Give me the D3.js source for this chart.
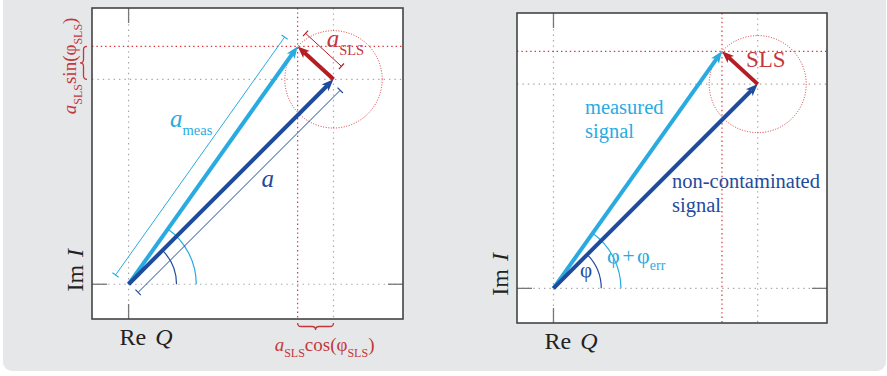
<!DOCTYPE html>
<html>
<head>
<meta charset="utf-8">
<script src="https://cdn.jsdelivr.net/npm/d3@7"></script>
<style>
  html, body { margin: 0; padding: 0; background: #fff; }
  svg { display: block; }
</style>
</head>
<body>
<div id="chart"></div>
<script>
// phasor values (arbitrary units, origin at 0,0)
var signal = [5.6, 5.6];        // non-contaminated signal a
var measured = [4.62, 6.5];     // measured signal a_meas
var xDomain = [-1, 7.5];
var yDomain = [-0.95, 7.55];
var arcRadii = [1.31, 1.85];    // angle markers: phi, phi+phi_err

var W = 887, H = 376;
var serif = '"Liberation Serif", "Times New Roman", serif';
var lightBlue = '#29abe2',
  darkBlue = '#1f4b9d',
  red = '#b51d24',
  redText = '#c4373d',
  redDot = '#d8343a',
  grayDot = '#a8a8a8';

// panel boxes
var panels = [
  { x: 92, y: 8, size: 311, detailed: true },
  { x: 517, y: 13, size: 310, detailed: false }
];

var svg = d3.select('#chart').append('svg')
  .attr('width', W).attr('height', H);

// grey rounded background
svg.append('rect')
  .attr('x', 3).attr('y', -20)
  .attr('width', 883).attr('height', 391)
  .attr('rx', 9)
  .attr('fill', '#e6e7e8');

// rich text with subscripts
function addText(g, x, y, parts, color, base, rotate) {
  var t = g.append('text')
    .attr('x', x).attr('y', y)
    .attr('fill', color)
    .style('font-family', serif)
    .style('font-size', base + 'px');
  if (rotate) t.attr('transform', 'rotate(' + rotate + ',' + x + ',' + y + ')');
  if (parts.anchor) t.attr('text-anchor', parts.anchor);
  var shift = 0;
  parts.forEach(function(p) {
    var s = t.append('tspan').text(p.t);
    var target = p.sub ? base * 0.3 : 0;
    if (target - shift !== 0) s.attr('dy', target - shift);
    shift = target;
    if (p.sub) s.style('font-size', (p.size || base * 0.6) + 'px');
    else if (p.size) s.style('font-size', p.size + 'px');
    if (p.i) s.style('font-style', 'italic');
    if (p.dx) s.attr('dx', p.dx);
  });
  return t;
}

function arrow(g, p0, p1, color, width) {
  var dx = p1[0] - p0[0], dy = p1[1] - p0[1];
  var len = Math.sqrt(dx * dx + dy * dy);
  var ux = dx / len, uy = dy / len;
  var hl = 12, hw = 4.8;
  g.append('line')
    .attr('x1', p0[0]).attr('y1', p0[1])
    .attr('x2', p1[0] - ux * (hl - 3)).attr('y2', p1[1] - uy * (hl - 3))
    .attr('stroke', color).attr('stroke-width', width);
  var bx = p1[0] - ux * hl, by = p1[1] - uy * hl;
  var nx = p1[0] - ux * (hl - 3), ny = p1[1] - uy * (hl - 3);
  g.append('path')
    .attr('d', 'M' + p1[0] + ',' + p1[1] +
      'L' + (bx - uy * hw) + ',' + (by + ux * hw) +
      'L' + nx + ',' + ny +
      'L' + (bx + uy * hw) + ',' + (by - ux * hw) + 'Z')
    .attr('fill', color);
}

// dimension line parallel to a vector, offset sideways
function dimLine(g, p0, p1, off, color, extra) {
  var dx = p1[0] - p0[0], dy = p1[1] - p0[1];
  var len = Math.sqrt(dx * dx + dy * dy);
  var ux = dx / len, uy = dy / len;
  var nx = uy, ny = -ux;
  var a = [p0[0] + nx * off - ux * extra[0], p0[1] + ny * off - uy * extra[0]];
  var b = [p1[0] + nx * off + ux * extra[1], p1[1] + ny * off + uy * extra[1]];
  g.append('line')
    .attr('x1', a[0]).attr('y1', a[1]).attr('x2', b[0]).attr('y2', b[1])
    .attr('stroke', color).attr('stroke-width', 1);
  [a, b].forEach(function(q) {
    g.append('line')
      .attr('x1', q[0] - nx * 3.8).attr('y1', q[1] - ny * 3.8)
      .attr('x2', q[0] + nx * 3.8).attr('y2', q[1] + ny * 3.8)
      .attr('stroke', color).attr('stroke-width', 1.2);
  });
}

function braceV(x, y1, y2, w) {
  var xm = x - w / 2, ym = (y1 + y2) / 2, q = w / 2;
  return 'M' + x + ',' + y1 + 'Q' + xm + ',' + y1 + ' ' + xm + ',' + (y1 + q) +
    'L' + xm + ',' + (ym - q) + 'Q' + xm + ',' + ym + ' ' + (x - w) + ',' + ym +
    'Q' + xm + ',' + ym + ' ' + xm + ',' + (ym + q) +
    'L' + xm + ',' + (y2 - q) + 'Q' + xm + ',' + y2 + ' ' + x + ',' + y2;
}
function braceH(y, x1, x2, h) {
  var ymid = y + h / 2, xm = (x1 + x2) / 2, q = h / 2;
  return 'M' + x1 + ',' + y + 'Q' + x1 + ',' + ymid + ' ' + (x1 + q) + ',' + ymid +
    'L' + (xm - q) + ',' + ymid + 'Q' + xm + ',' + ymid + ' ' + xm + ',' + (y + h) +
    'Q' + xm + ',' + ymid + ' ' + (xm + q) + ',' + ymid +
    'L' + (x2 - q) + ',' + ymid + 'Q' + x2 + ',' + ymid + ' ' + x2 + ',' + y;
}

function arcPath(r, ang) {
  return 'M' + r + ',0 A' + r + ',' + r + ' 0 0 0 ' +
    (r * Math.cos(ang)) + ',' + (-r * Math.sin(ang));
}

panels.forEach(function(p) {
  var g = svg.append('g');
  var x = d3.scaleLinear().domain(xDomain).range([p.x, p.x + p.size]);
  var y = d3.scaleLinear().domain(yDomain).range([p.y + p.size, p.y]);
  var x0 = p.x, x1 = p.x + p.size, y0 = p.y, y1 = p.y + p.size;

  g.append('rect')
    .attr('x', x0).attr('y', y0).attr('width', p.size).attr('height', p.size)
    .attr('fill', '#fff');

  // dotted guide lines
  var vLines = [{ v: 0, c: grayDot }, { v: signal[0], c: grayDot }, { v: measured[0], c: redDot }];
  var hLines = [{ v: 0, c: grayDot }, { v: signal[1], c: grayDot }, { v: measured[1], c: redDot }];
  vLines.forEach(function(l) {
    g.append('line')
      .attr('x1', x(l.v)).attr('x2', x(l.v)).attr('y1', y0).attr('y2', y1)
      .attr('stroke', l.c).attr('stroke-width', 1.2)
      .attr('stroke-dasharray', l.c === redDot ? '1.4 3' : '1.4 4');
  });
  hLines.forEach(function(l) {
    g.append('line')
      .attr('y1', y(l.v)).attr('y2', y(l.v)).attr('x1', x0).attr('x2', x1)
      .attr('stroke', l.c).attr('stroke-width', 1.2)
      .attr('stroke-dasharray', l.c === redDot ? '1.4 3' : '1.4 4');
  });

  // axis tick stubs at the frame
  var tk = 15;
  [[x(0), y0, x(0), y0 + tk], [x(0), y1, x(0), y1 - tk],
   [x0, y(0), x0 + tk, y(0)], [x1, y(0), x1 - tk, y(0)]].forEach(function(s) {
    g.append('line')
      .attr('x1', s[0]).attr('y1', s[1]).attr('x2', s[2]).attr('y2', s[3])
      .attr('stroke', '#777').attr('stroke-width', 1.3);
  });

  g.append('rect')
    .attr('x', x0).attr('y', y0).attr('width', p.size).attr('height', p.size)
    .attr('fill', 'none').attr('stroke', '#444').attr('stroke-width', 1.6);

  var O = [x(0), y(0)];
  var A = [x(signal[0]), y(signal[1])];
  var M = [x(measured[0]), y(measured[1])];
  var rPx = Math.hypot(M[0] - A[0], M[1] - A[1]);

  // SLS circle
  g.append('circle')
    .attr('cx', A[0]).attr('cy', A[1]).attr('r', rPx)
    .attr('fill', 'none').attr('stroke', redDot).attr('stroke-width', 1)
    .attr('stroke-dasharray', '1 1.6');

  // angle arcs
  var angA = Math.atan2(O[1] - A[1], A[0] - O[0]);
  var angM = Math.atan2(O[1] - M[1], M[0] - O[0]);
  var ag = g.append('g').attr('transform', 'translate(' + O[0] + ',' + O[1] + ')');
  ag.append('path')
    .attr('d', arcPath(x(arcRadii[0]) - x(0), angA))
    .attr('fill', 'none').attr('stroke', darkBlue).attr('stroke-width', 1.2);
  ag.append('path')
    .attr('d', arcPath(x(arcRadii[1]) - x(0), angM))
    .attr('fill', 'none').attr('stroke', lightBlue).attr('stroke-width', 1.2);

  if (p.detailed) {
    dimLine(g, O, M, 16, lightBlue, [0, 0]);
    dimLine(g, O, A, -12.5, darkBlue, [-1, -3]);
    dimLine(g, A, M, -15, red, [-3, 3]);
  }

  arrow(g, O, M, lightBlue, 4);
  arrow(g, O, A, darkBlue, 4);
  arrow(g, A, M, red, 4);

  // axis names
  addText(g, x(0) - 9, y1 + 26, [{ t: 'Re' }, { t: 'Q', i: true, dx: 9 }], '#222', 24);
  addText(g, x0 - 9, O[1] - 14, Object.assign([{ t: 'Im' }, { t: 'I', i: true, dx: 8 }], { anchor: 'middle' }), '#222', 24, -90);

  if (p.detailed) {
    addText(g, O[0] + 41.5, O[1] - 157, [{ t: 'a', i: true }, { t: 'meas', sub: true, size: 14.5 }], lightBlue, 25);
    addText(g, O[0] + 133, O[1] - 97, [{ t: 'a', i: true }], darkBlue, 25);
    addText(g, M[0] + 29, M[1] + 1, [{ t: 'a', i: true }, { t: 'SLS', sub: true, size: 14.5 }], redText, 25);

    // sin component: brace on the left + rotated label
    g.append('path').attr('d', braceV(x0 - 5, M[1], A[1], 7))
      .attr('fill', 'none').attr('stroke', redText).attr('stroke-width', 1.3);
    addText(g, x0 - 16, (M[1] + A[1]) / 2 + 3,
      Object.assign([{ t: 'a', i: true }, { t: 'SLS', sub: true, size: 12 }, { t: 'sin(' },
        { t: 'φ' }, { t: 'SLS', sub: true, size: 12 }, { t: ')' }], { anchor: 'middle' }),
      redText, 19, -90);

    // cos component: brace below + label
    g.append('path').attr('d', braceH(y1 + 4, M[0], A[0], 7))
      .attr('fill', 'none').attr('stroke', redText).attr('stroke-width', 1.3);
    addText(g, (M[0] + A[0]) / 2 + 9, y1 + 32,
      Object.assign([{ t: 'a', i: true }, { t: 'SLS', sub: true, size: 12 }, { t: 'cos(' },
        { t: 'φ' }, { t: 'SLS', sub: true, size: 12 }, { t: ')' }], { anchor: 'middle' }),
      redText, 19);
  } else {
    addText(g, O[0] + 31.5, O[1] - 174, [{ t: 'measured' }], lightBlue, 20.5);
    addText(g, O[0] + 31.5, O[1] - 150, [{ t: 'signal' }], lightBlue, 20.5);
    addText(g, O[0] + 118.5, O[1] - 100, [{ t: 'non-contaminated' }], darkBlue, 20.5);
    addText(g, O[0] + 118.5, O[1] - 76, [{ t: 'signal' }], darkBlue, 20.5);
    addText(g, M[0] + 24, M[1] + 16, [{ t: 'SLS' }], redText, 23);
    addText(g, O[0] + 26.5, O[1] - 11, [{ t: 'φ' }], darkBlue, 21);
    addText(g, O[0] + 53.5, O[1] - 25, [{ t: 'φ' }, { t: '+', dx: 2.5 }, { t: 'φ', dx: 2.5 }, { t: 'err', sub: true, size: 14 }], lightBlue, 22);
  }
});
</script>
</body>
</html>
